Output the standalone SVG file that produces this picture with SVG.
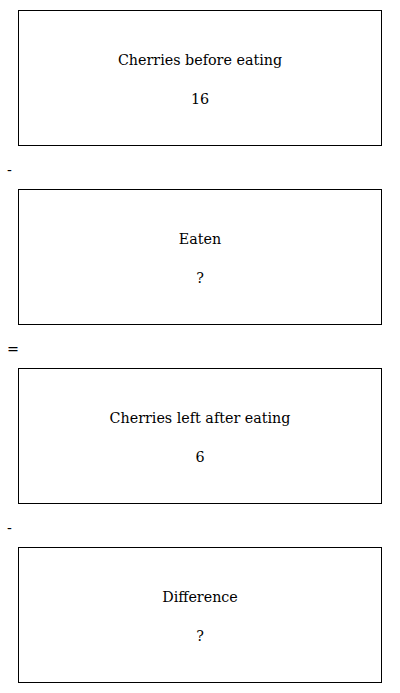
<svg xmlns="http://www.w3.org/2000/svg" width="400" height="693" viewBox="0 0 400 693">
<style>
.box{fill:#fff;stroke:#000;stroke-width:1}
.t{font-family:"DejaVu Serif",serif;font-size:14.3px;fill:#000;text-anchor:middle}
.op{font-family:"DejaVu Serif",serif;font-size:14.3px;fill:#000}
</style>
<rect width="400" height="693" fill="#fff"/>
<g id="node1"><rect class="box" x="18.5" y="10.5" width="363" height="135"/><text class="t" x="200" y="65">Cherries before eating</text><text class="t" x="200" y="104">16</text></g>
<g id="node2"><rect class="box" x="18.5" y="189.5" width="363" height="135"/><text class="t" x="200" y="244">Eaten</text><text class="t" x="200" y="283">?</text></g>
<g id="node3"><rect class="box" x="18.5" y="368.5" width="363" height="135"/><text class="t" x="200" y="423">Cherries left after eating</text><text class="t" x="200" y="462">6</text></g>
<g id="node4"><rect class="box" x="18.5" y="547.5" width="363" height="135"/><text class="t" x="200" y="602">Difference</text><text class="t" x="200" y="641">?</text></g>
<g id="connectors">
<text class="op" x="7" y="175">-</text>
<text class="op" x="7" y="354">=</text>
<text class="op" x="7" y="533">-</text>
</g>
</svg>
